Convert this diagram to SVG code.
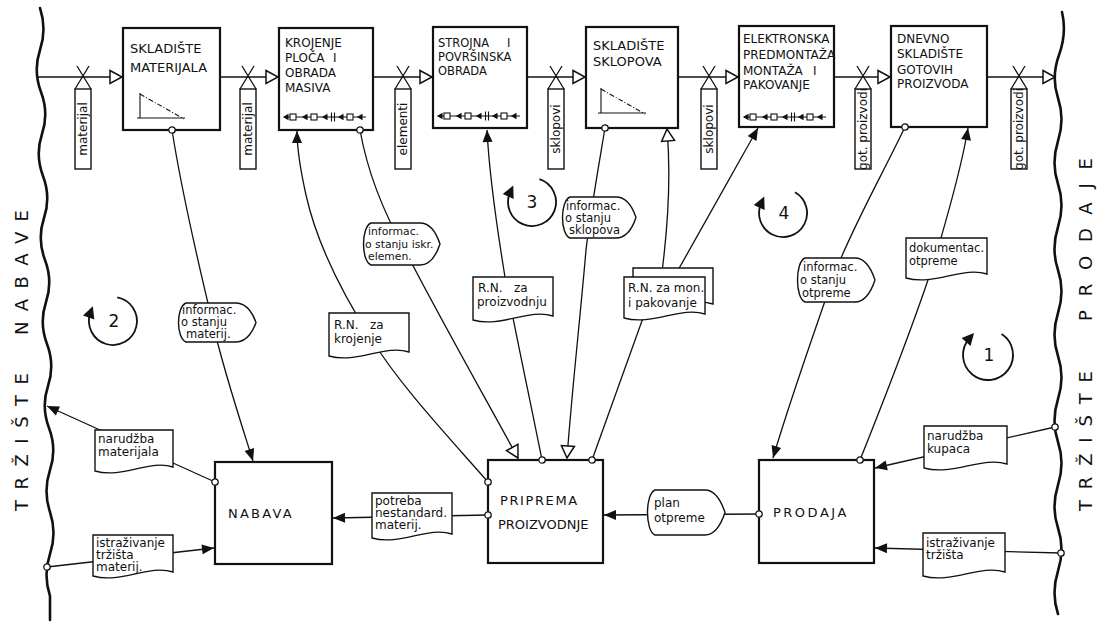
<svg xmlns="http://www.w3.org/2000/svg" width="1107" height="623" viewBox="0 0 1107 623">
<defs>
<style>
.box{fill:#fff;stroke:#111;stroke-width:2.2}
.ln{fill:none;stroke:#111;stroke-width:1.3}
.bd{fill:none;stroke:#111;stroke-width:2.6;stroke-linecap:round}
.lb{fill:#fff;stroke:#111;stroke-width:1.4}
.t{font-family:"DejaVu Sans","Liberation Sans",sans-serif;fill:#111}
.b13{font-size:13px}
.b12{font-size:12px}
.s12{font-size:12px}
.s11{font-size:11.5px}
.s10{font-size:10.8px}
.vt{font-size:12px;text-anchor:middle}
.big{font-size:18px}
.num{font-size:17px;text-anchor:middle}
.sym{fill:none;stroke:#111;stroke-width:1.1}
</style>
<marker id="aOpen" markerUnits="userSpaceOnUse" markerWidth="14" markerHeight="14" refX="12" refY="6.5" orient="auto" overflow="visible"><path d="M0,0 L12,6.5 L0,13 Z" fill="#fff" stroke="#111" stroke-width="1.5"/></marker>
<marker id="aFill" markerUnits="userSpaceOnUse" markerWidth="12" markerHeight="10" refX="12" refY="5" orient="auto" overflow="visible"><path d="M0,0 L12,5 L0,10 Z" fill="#111"/></marker>
<marker id="dot" markerUnits="userSpaceOnUse" markerWidth="8" markerHeight="8" refX="4" refY="4" overflow="visible"><circle cx="4" cy="4" r="3.2" fill="#fff" stroke="#111" stroke-width="1.3"/></marker>
<marker id="cyc" markerUnits="userSpaceOnUse" markerWidth="12" markerHeight="12" refX="5" refY="6" orient="auto" overflow="visible"><path d="M0,0 L12,6 L0,12 Z" fill="#111"/></marker>
<g id="belt" class="sym">
<path d="M0,0 H82"/>
<path d="M0,0 l4,-2.2 v4.4 z M19,0 l4,-2.2 v4.4 z M39,0 l4,-2.2 v4.4 z M55,0 l4,-2.2 v4.4 z M74,0 l4,-2.2 v4.4 z" fill="#111"/>
<rect x="6" y="-3" width="6" height="6" fill="#fff"/>
<rect x="27" y="-3" width="6" height="6" fill="#fff"/>
<rect x="63" y="-3" width="6" height="6" fill="#fff"/>
<path d="M47.5,-4.5 V4.5 M50.5,-4.5 V4.5"/>
</g>
<g id="chart" class="sym">
<path d="M0,0 V25 M-3,25 H45"/>
<path d="M0,1 L44,26" stroke-dasharray="5,2,1,2"/>
</g>
</defs>
<rect width="1107" height="623" fill="#fff"/>

<g id="borders">
<path class="bd" d="M40,8 Q47,29 40,50 T41,92 T42,134 T43,176 T44,218 T45,260 T46,302 T47,344 T48,386 T49,428 T50,470 T50,512 T50,554 T50,596 L50,620"/>
<path class="bd" d="M1062,12 Q1067,33 1059,55 T1058,98 T1058,141 T1058,184 T1058,227 T1058,270 T1058,313 T1058,356 T1058,399 T1058,442 T1058,485 T1058,528 T1058,571 T1058,614"/>
<text class="t big" transform="translate(28,335) rotate(-90)" textLength="125" lengthAdjust="spacing">NABAVE</text>
<text class="t big" transform="translate(28,511) rotate(-90)" textLength="138" lengthAdjust="spacing">TRŽIŠTE</text>
<text class="t big" transform="translate(1092,321) rotate(-90)" textLength="163" lengthAdjust="spacing">PRODAJE</text>
<text class="t big" transform="translate(1092,511) rotate(-90)" textLength="140" lengthAdjust="spacing">TRŽIŠTE</text>
</g>

<g id="n-skladiste-materijala">
<rect class="box" x="123" y="28" width="97" height="102"/>
<text class="t b13"><tspan x="130" y="53">SKLADIŠTE</tspan><tspan x="130" y="72">MATERIJALA</tspan></text>
<use href="#chart" x="140" y="93"/>
</g>
<g id="n-krojenje">
<rect class="box" x="279" y="28" width="94" height="102"/>
<text class="t b12"><tspan x="285" y="47">KROJENJE</tspan><tspan x="285" y="62">PLOČA</tspan><tspan x="333" y="62">I</tspan><tspan x="285" y="77">OBRADA</tspan><tspan x="285" y="92">MASIVA</tspan></text>
<use href="#belt" x="284" y="117"/>
</g>
<g id="n-strojna">
<rect class="box" x="433" y="27" width="94" height="101"/>
<text class="t s11"><tspan x="438" y="47">STROJNA</tspan><tspan x="507" y="47">I</tspan><tspan x="438" y="61">POVRŠINSKA</tspan><tspan x="438" y="75">OBRADA</tspan></text>
<use href="#belt" x="438" y="116"/>
</g>
<g id="n-skladiste-sklopova">
<rect class="box" x="586" y="27" width="92" height="101"/>
<text class="t b13"><tspan x="593" y="50">SKLADIŠTE</tspan><tspan x="593" y="66">SKLOPOVA</tspan></text>
<use href="#chart" x="601" y="88"/>
</g>
<g id="n-montaza">
<rect class="box" x="739" y="26" width="95" height="101"/>
<text class="t b12"><tspan x="743" y="43">ELEKTRONSKA</tspan><tspan x="743" y="59">PREDMONTAŽA</tspan><tspan x="743" y="75">MONTAŽA</tspan><tspan x="813" y="75">I</tspan><tspan x="743" y="89">PAKOVANJE</tspan></text>
<use href="#belt" x="744" y="117"/>
</g>
<g id="n-dnevno-skladiste">
<rect class="box" x="891" y="26" width="96" height="101"/>
<text class="t b12"><tspan x="897" y="43">DNEVNO</tspan><tspan x="897" y="58">SKLADIŠTE</tspan><tspan x="897" y="74">GOTOVIH</tspan><tspan x="897" y="88">PROIZVODA</tspan></text>
</g>
<g id="n-nabava">
<rect class="box" x="215" y="462" width="117" height="102"/>
<text class="t b13" x="228" y="518" letter-spacing="2.2">NABAVA</text>
</g>
<g id="n-priprema">
<rect class="box" x="488" y="460" width="115" height="103"/>
<text class="t b13"><tspan x="500" y="505" letter-spacing="1.6">PRIPREMA</tspan><tspan x="498" y="529">PROIZVODNJE</tspan></text>
</g>
<g id="n-prodaja">
<rect class="box" x="759" y="460" width="115" height="103"/>
<text class="t b13" x="773" y="517" letter-spacing="2.5">PRODAJA</text>
</g>

<g id="connectors" class="ln">
<path d="M37,77 H122" marker-end="url(#aOpen)"/>
<path d="M220,77 H278" marker-end="url(#aOpen)"/>
<path d="M373,77 H432" marker-end="url(#aOpen)"/>
<path d="M527,77 H585" marker-end="url(#aOpen)"/>
<path d="M678,77 H738" marker-end="url(#aOpen)"/>
<path d="M834,77 H890" marker-end="url(#aOpen)"/>
<path d="M987,77 H1055" marker-end="url(#aOpen)"/>
<path d="M172,130 C183,200 200,270 212,320 C222,365 240,420 253,461" marker-start="url(#dot)" marker-end="url(#aFill)"/>
<path d="M488,482 C445,433 400,385 372,340 C340,290 316,240 306,195 C300,168 297,150 297,131" marker-start="url(#dot)" marker-end="url(#aFill)"/>
<path d="M360,130 C368,175 385,215 405,250 C430,300 478,385 518,458" marker-start="url(#dot)" marker-end="url(#aOpen)"/>
<path d="M542,460 C530,400 515,330 505,277 C496,222 489,170 487,130" marker-start="url(#dot)" marker-end="url(#aFill)"/>
<path d="M605,128 C598,170 590,215 586,250 C580,320 572,390 567,458" marker-start="url(#dot)" marker-end="url(#aOpen)"/>
<path d="M592,460 L643,318" marker-start="url(#dot)"/>
<path d="M662,272 C668,225 671,175 667,129" marker-end="url(#aOpen)"/>
<path d="M677,272 L758,128" marker-end="url(#aFill)"/>
<path d="M905,127 C882,175 852,228 834,275 C815,330 790,400 773,458" marker-start="url(#dot)" marker-end="url(#aFill)"/>
<path d="M860,460 C882,405 915,320 933,265 C948,215 962,165 968,128" marker-start="url(#dot)" marker-end="url(#aFill)"/>
<path d="M215,482 L47,406" marker-start="url(#dot)" marker-end="url(#aFill)"/>
<path d="M47,567 L214,548" marker-start="url(#dot)" marker-end="url(#aFill)"/>
<path d="M488,515 L333,518" marker-start="url(#dot)" marker-end="url(#aFill)"/>
<path d="M759,514 L604,515" marker-start="url(#dot)" marker-end="url(#aFill)"/>
<path d="M1055,427 L875,468" marker-start="url(#dot)" marker-end="url(#aFill)"/>
<path d="M1061,553 L875,548" marker-start="url(#dot)" marker-end="url(#aFill)"/>
</g>

<g id="flow-labels">
<g id="f1"><path class="ln" d="M77,66 L91,89 M89,66 L75,89"/><rect class="lb" x="75" y="89" width="16" height="80"/><text class="t vt" transform="translate(87,129) rotate(-90)">materijal</text></g>
<g id="f2"><path class="ln" d="M242,66 L256,89 M254,66 L240,89"/><rect class="lb" x="240" y="89" width="16" height="80"/><text class="t vt" transform="translate(252,129) rotate(-90)">materijal</text></g>
<g id="f3"><path class="ln" d="M397,66 L411,89 M409,66 L395,89"/><rect class="lb" x="395" y="89" width="16" height="80"/><text class="t vt" transform="translate(407,129) rotate(-90)">elementi</text></g>
<g id="f4"><path class="ln" d="M550,66 L564,89 M562,66 L548,89"/><rect class="lb" x="548" y="89" width="16" height="80"/><text class="t vt" transform="translate(560,129) rotate(-90)">sklopovi</text></g>
<g id="f5"><path class="ln" d="M703,66 L717,89 M715,66 L701,89"/><rect class="lb" x="701" y="89" width="16" height="80"/><text class="t vt" transform="translate(713,129) rotate(-90)">sklopovi</text></g>
<g id="f6"><path class="ln" d="M857,66 L871,89 M869,66 L855,89"/><rect class="lb" x="855" y="89" width="16" height="80"/><text class="t vt" transform="translate(867,129) rotate(-90)">got. proizvodi</text></g>
<g id="f7"><path class="ln" d="M1013,66 L1027,89 M1025,66 L1011,89"/><rect class="lb" x="1011" y="89" width="16" height="80"/><text class="t vt" transform="translate(1023,129) rotate(-90)">got. proizvodi</text></g>
</g>

<g id="data-labels">
<g id="l-info-materij"><path class="lb" d="M186,303 H236 C248,303 254,316.5 256,322.5 C254,328.5 248,342 236,342 H186 C176,338 176,307 186,303 Z"/><text class="t s11"><tspan x="182" y="314">informac.</tspan><tspan x="181" y="326">o stanju</tspan><tspan x="186" y="338">materij.</tspan></text></g>
<g id="l-rn-krojenje"><path class="lb" d="M329,313 H409 V352 C385,344 357,364 329,356 Z"/><text class="t s12"><tspan x="334" y="329">R.N.</tspan><tspan x="370" y="329">za</tspan><tspan x="334" y="343">krojenje</tspan></text></g>
<g id="l-info-elemen"><path class="lb" d="M371,223 H420 C432,223 438,238 440,244 C438,250 432,265 420,265 H371 C361,261 361,227 371,223 Z"/><text class="t s10"><tspan x="368" y="235">informac.</tspan><tspan x="365" y="248">o stanju iskr.</tspan><tspan x="368" y="260">elemen.</tspan></text></g>
<g id="l-rn-proizvodnju"><path class="lb" d="M473,277 H553 V316 C529,308 501,328 473,320 Z"/><text class="t s12"><tspan x="478" y="292">R.N.</tspan><tspan x="514" y="292">za</tspan><tspan x="477" y="306">proizvodnju</tspan></text></g>
<g id="l-info-sklopova"><path class="lb" d="M570,197 H616 C628,197 634,211.5 636,217.5 C634,223.5 628,238 616,238 H570 C560,234 560,201 570,197 Z"/><text class="t s11"><tspan x="566" y="210">informac.</tspan><tspan x="565" y="222">o stanju</tspan><tspan x="569" y="234">sklopova</tspan></text></g>
<g id="l-rn-mon"><path class="lb" d="M633,268 H713 V304 C689,296 661,316 633,308 Z"/><path class="lb" d="M624,277 H705 V314 C681,306 652,326 624,318 Z"/><text class="t s12"><tspan x="628" y="292">R.N. za mon.</tspan><tspan x="628" y="307">i pakovanje</tspan></text></g>
<g id="l-info-otpreme"><path class="lb" d="M805,258 H855 C867,258 873,274 875,280 C873,286 867,302 855,302 H805 C795,298 795,262 805,258 Z"/><text class="t s11"><tspan x="803" y="271">informac.</tspan><tspan x="800" y="284">o stanju</tspan><tspan x="802" y="297">otpreme</tspan></text></g>
<g id="l-dokumentac"><path class="lb" d="M906,238 H987 V274 C963,266 934,286 906,278 Z"/><text class="t s11"><tspan x="909" y="252">dokumentac.</tspan><tspan x="909" y="265">otpreme</tspan></text></g>
<g id="l-narudzba-materijala"><path class="lb" d="M95,430 H173 V467 C150,459 122,479 95,471 Z"/><text class="t s12"><tspan x="98" y="443">narudžba</tspan><tspan x="98" y="456">materijala</tspan></text></g>
<g id="l-istrazivanje-materij"><path class="lb" d="M93,535 H173 V572 C149,564 121,584 93,576 Z"/><text class="t s12"><tspan x="96" y="547">istraživanje</tspan><tspan x="96" y="559">tržišta</tspan><tspan x="96" y="571">materij.</tspan></text></g>
<g id="l-potreba"><path class="lb" d="M372,493 H452 V534 C428,526 400,546 372,538 Z"/><text class="t s12"><tspan x="375" y="505">potreba</tspan><tspan x="375" y="517">nestandard.</tspan><tspan x="375" y="529">materij.</tspan></text></g>
<g id="l-plan-otpreme"><path class="lb" d="M655,490 H705 C717,490 723,506.5 725,512.5 C723,518.5 717,535 705,535 H655 C645,531 645,494 655,490 Z"/><text class="t s12"><tspan x="654" y="507">plan</tspan><tspan x="654" y="522">otpreme</tspan></text></g>
<g id="l-narudzba-kupaca"><path class="lb" d="M924,426 H1007 V464 C982,456 953,476 924,468 Z"/><text class="t s12"><tspan x="927" y="440">narudžba</tspan><tspan x="927" y="453">kupaca</tspan></text></g>
<g id="l-istrazivanje-trzista"><path class="lb" d="M923,533 H1005 V572 C980,564 952,584 923,576 Z"/><text class="t s12"><tspan x="926" y="547">istraživanje</tspan><tspan x="926" y="559">tržišta</tspan></text></g>
</g>

<g id="cycles" class="ln">
<g id="cycle-1"><path d="M1001.6,334 A25,25 0 1 1 969.4,338.3" stroke-width="1.8" marker-end="url(#cyc)"/><text class="t num" x="989" y="361" stroke="none">1</text></g>
<g id="cycle-2"><path d="M117.2,297.4 A24,24 0 1 1 90.4,312.8" stroke-width="1.8" marker-end="url(#cyc)"/><text class="t num" x="114" y="327" stroke="none">2</text></g>
<g id="cycle-3"><path d="M539.4,179.2 A24,24 0 1 1 510.3,191.9" stroke-width="1.8" marker-end="url(#cyc)"/><text class="t num" x="532" y="208" stroke="none">3</text></g>
<g id="cycle-4"><path d="M795,192.2 A24,24 0 1 1 761.3,202.9" stroke-width="1.8" marker-end="url(#cyc)"/><text class="t num" x="784" y="219" stroke="none">4</text></g>
</g>
</svg>
